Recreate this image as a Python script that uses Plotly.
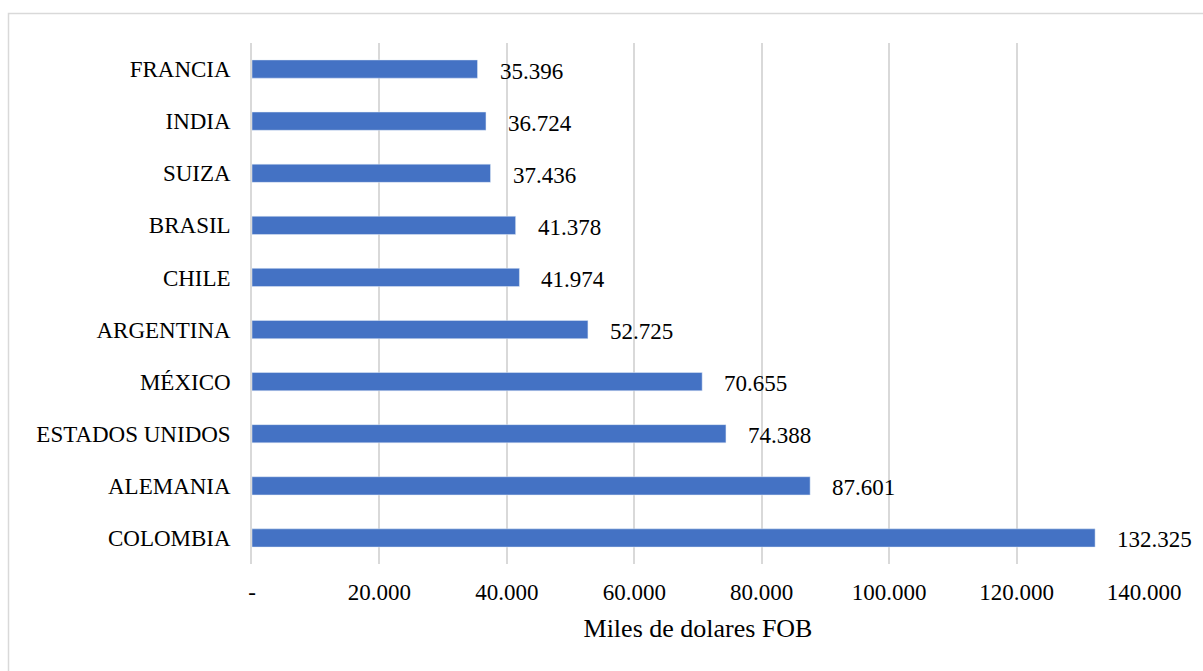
import plotly.graph_objects as go

countries = ["COLOMBIA", "ALEMANIA", "ESTADOS UNIDOS", "MÉXICO", "ARGENTINA",
             "CHILE", "BRASIL", "SUIZA", "INDIA", "FRANCIA"]
values = [132325, 87601, 74388, 70655, 52725, 41974, 41378, 37436, 36724, 35396]
value_labels = ["132.325", "87.601", "74.388", "70.655", "52.725",
                "41.974", "41.378", "37.436", "36.724", "35.396"]
tick_vals = [0, 20000, 40000, 60000, 80000, 100000, 120000, 140000]
tick_text = ["-", "20.000", "40.000", "60.000", "80.000",
             "100.000", "120.000", "140.000"]
axis_title = "Miles de dolares FOB"

FONT = "Times New Roman, Liberation Serif, serif"
W, H = 1203, 671
L, R, T, B = 252, 59, 43, 107

fig = go.Figure()
fig.add_trace(go.Bar(
    y=countries, x=values, orientation="h",
    marker=dict(color="#4472C4"),
    width=0.35,
))

for c, v, t in zip(countries, values, value_labels):
    fig.add_annotation(x=v, y=c, text=t, showarrow=False, xanchor="left",
                       yanchor="middle", xshift=20, yshift=-2,
                       font=dict(family=FONT, size=23, color="black"))

pw = W - L - R
ph = H - T - B
x0 = (8.5 - L) / pw
x1 = (1210 - L) / pw
y1 = 1 + (T - 13.5) / ph
y0 = -(H + 10 - (H - B)) / ph
fig.add_shape(type="rect", xref="paper", yref="paper", x0=x0, x1=x1, y0=y0, y1=y1,
              line=dict(color="#d9d9d9", width=1.5), layer="below")

fig.update_layout(
    width=W, height=H,
    margin=dict(l=L, r=R, t=T, b=B),
    plot_bgcolor="white",
    showlegend=False,
    font=dict(family=FONT, size=23, color="black"),
)
fig.update_xaxes(
    range=[0, 140000], tickvals=tick_vals, ticktext=tick_text,
    showgrid=True, gridcolor="#d9d9d9", gridwidth=1.5,
    zeroline=False, showline=False,
    ticks="outside", ticklen=7, tickcolor="rgba(0,0,0,0)",
    tickfont=dict(family=FONT, size=23, color="black"),
    title=dict(text=axis_title, font=dict(family=FONT, size=26, color="black")),
)
fig.update_yaxes(
    categoryorder="array", categoryarray=countries,
    showline=True, linecolor="#d9d9d9", linewidth=1.5,
    showgrid=False,
    ticks="outside", ticklen=15, tickcolor="rgba(0,0,0,0)",
    tickfont=dict(family=FONT, size=23, color="black"),
)

fig.write_html("out.html")
